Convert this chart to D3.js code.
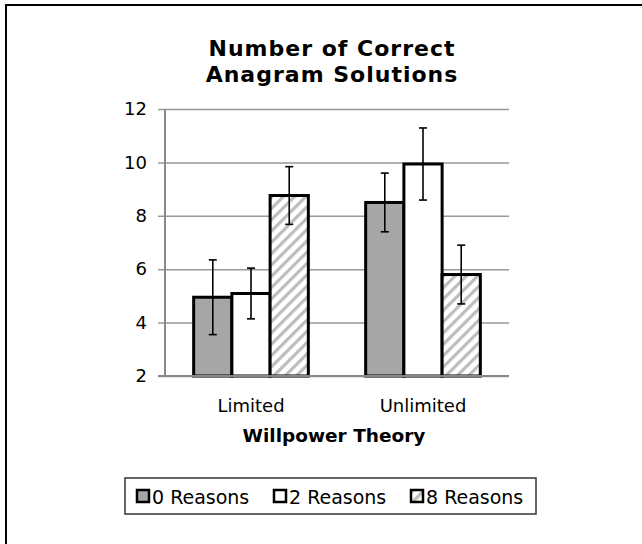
<!DOCTYPE html>
<html>
<head>
<meta charset="utf-8">
<script src="https://cdnjs.cloudflare.com/ajax/libs/d3/7.8.5/d3.min.js"></script>
<style>
  body { margin: 0; background: #fff; }
  text { font-family: "DejaVu Sans", Verdana, sans-serif; fill: #000; }
</style>
</head>
<body>
<script>
// data
let categories = ['Limited', 'Unlimited'];
let series = ['0 Reasons', '2 Reasons', '8 Reasons'];
let values = [
  [4.95, 5.09, 8.76],   // Limited
  [8.50, 9.94, 5.80]    // Unlimited
];
let errors = [
  [1.40, 0.95, 1.08],
  [1.10, 1.35, 1.10]
];
let yTicks = [2, 4, 6, 8, 10, 12];

let W = 642, H = 544;
let margin = {top: 109, right: 133, bottom: 168, left: 165};
let width = W - (margin.left + margin.right);
let height = H - (margin.top + margin.bottom);

let fills = ['#a6a6a6', '#ffffff', 'url(#hatch)'];

let svg = d3.select('body').append('svg')
    .attr('width', W)
    .attr('height', H);

// diagonal hatch for the 8 Reasons bars
let defs = svg.append('defs');
let pat = defs.append('pattern')
    .attr('id', 'hatch')
    .attr('patternUnits', 'userSpaceOnUse')
    .attr('width', 8)
    .attr('height', 8)
    .attr('patternTransform', 'rotate(45)');
pat.append('rect')
    .attr('width', 8).attr('height', 8)
    .attr('fill', '#fff');
pat.append('rect')
    .attr('x', 0).attr('width', 3.2).attr('height', 8)
    .attr('fill', '#bdbdbd');

// outer frame (only left and top edges fall inside the window)
svg.append('rect')
    .attr('x', 6).attr('y', 5)
    .attr('width', W + 20).attr('height', H + 20)
    .attr('fill', 'none')
    .attr('stroke', '#000')
    .attr('stroke-width', 2);

// title
let titleLines = ['Number of Correct', 'Anagram Solutions'];
svg.selectAll('.title')
    .data(titleLines)
  .enter().append('text')
    .attr('class', 'title')
    .attr('x', 332)
    .attr('y', (d, i) => 56 + i * 26)
    .attr('text-anchor', 'middle')
    .style('font-size', '22px').style('font-weight', 'bold')
    .style('letter-spacing', '1px')
    .text(d => d);

let g = svg.append('g')
    .attr('transform', 'translate(' + margin.left + ',' + margin.top + ')');

let x0 = d3.scaleBand()
    .domain(categories)
    .range([0, width]);

let gap = x0.step() * 1.5 / 4.5;
let x1 = d3.scaleBand()
    .domain(series)
    .range([gap / 2, x0.step() - gap / 2]);

let y = d3.scaleLinear()
    .domain([2, 12])
    .range([height, 0]);

// gridlines + y labels
let yAxis = d3.axisLeft(y)
    .tickValues(yTicks)
    .tickSize(-width - 7)
    .tickPadding(12)
    .tickFormat(d3.format('d'));

g.append('g')
    .attr('class', 'y axis')
    .attr('transform', 'translate(-7,0)')
    .call(yAxis)
    .call(a => a.select('.domain').remove())
    .call(a => a.selectAll('line')
        .attr('stroke', '#999').attr('stroke-width', 1.5))
    .call(a => a.selectAll('text')
        .attr('x', -11)
        .style('font-size', '18px'));

// y axis line
g.append('line')
    .attr('x1', 0).attr('x2', 0)
    .attr('y1', y(12)).attr('y2', y(2))
    .attr('stroke', '#888').attr('stroke-width', 2);

// bars
let groups = g.selectAll('.group')
    .data(categories)
  .enter().append('g')
    .attr('class', 'group')
    .attr('transform', d => 'translate(' + x0(d) + ',0)');

groups.selectAll('rect')
    .data((d, i) => values[i].map((v, j) => ({s: series[j], v: v, e: errors[i][j], j: j})))
  .enter().append('rect')
    .attr('x', d => x1(d.s))
    .attr('y', d => y(d.v))
    .attr('width', x1.bandwidth())
    .attr('height', d => y(2) - y(d.v))
    .attr('fill', d => fills[d.j])
    .attr('stroke', '#000')
    .attr('stroke-width', 3);

// x axis line at 2
g.append('line')
    .attr('x1', -7).attr('x2', width)
    .attr('y1', y(2)).attr('y2', y(2))
    .attr('stroke', '#888').attr('stroke-width', 2);

// error bars
let eb = groups.selectAll('.err')
    .data((d, i) => values[i].map((v, j) => ({s: series[j], v: v, e: errors[i][j]})))
  .enter().append('g')
    .attr('class', 'err')
    .attr('transform', d => 'translate(' + (x1(d.s) + x1.bandwidth() / 2) + ',0)')
    .attr('stroke', '#000')
    .attr('stroke-width', 1.6);

eb.append('line')
    .attr('y1', d => y(d.v + d.e))
    .attr('y2', d => y(d.v - d.e));
eb.append('line')
    .attr('x1', -4).attr('x2', 4)
    .attr('y1', d => y(d.v + d.e)).attr('y2', d => y(d.v + d.e));
eb.append('line')
    .attr('x1', -4).attr('x2', 4)
    .attr('y1', d => y(d.v - d.e)).attr('y2', d => y(d.v - d.e));

// category labels
g.selectAll('.cat')
    .data(categories)
  .enter().append('text')
    .attr('class', 'cat')
    .attr('x', d => x0(d) + x0.bandwidth() / 2)
    .attr('y', height + 36)
    .attr('text-anchor', 'middle')
    .style('font-size', '18px')
    .text(d => d);

// axis title
svg.append('text')
    .attr('x', 334).attr('y', 442)
    .attr('text-anchor', 'middle')
    .style('font-size', '18.5px').style('font-weight', 'bold')
    .text('Willpower Theory');

// legend
let legend = svg.append('g');
legend.append('rect')
    .attr('x', 125).attr('y', 478)
    .attr('width', 411).attr('height', 36)
    .attr('fill', '#fff')
    .attr('stroke', '#333')
    .attr('stroke-width', 1.5);

let items = legend.selectAll('.item')
    .data(series)
  .enter().append('g')
    .attr('class', 'item')
    .attr('transform', (d, i) => 'translate(' + (137 + i * 137) + ',490)');

items.append('rect')
    .attr('width', 12).attr('height', 12)
    .attr('fill', (d, i) => fills[i])
    .attr('stroke', '#000')
    .attr('stroke-width', 2.5);
items.append('text')
    .attr('x', 15).attr('y', 13.5)
    .style('font-size', '19px')
    .text(d => d);
</script>
</body>
</html>
